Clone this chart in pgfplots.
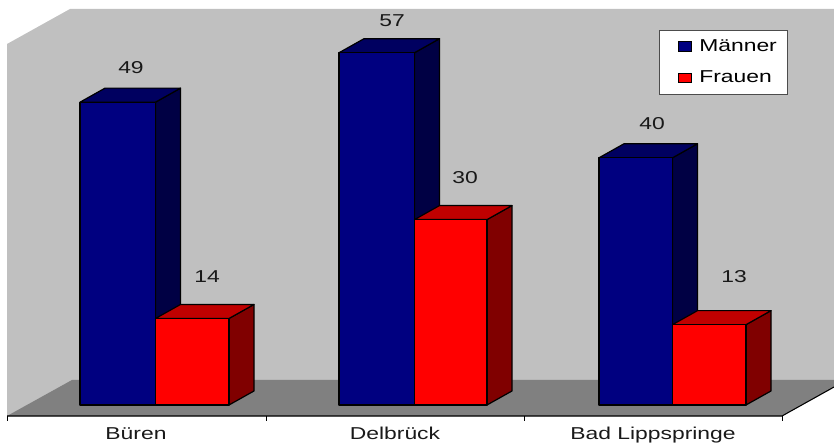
\documentclass[border=0pt]{standalone}
\usepackage{fontspec}
\setmainfont[FakeStretch=1.33]{Liberation Sans}
\usepackage{pgfplots}
\pgfplotsset{compat=1.18}
\definecolor{wall}{HTML}{C0C0C0}
\definecolor{floorgray}{HTML}{808080}
\definecolor{menfront}{HTML}{000080}
\definecolor{mentop}{HTML}{000060}
\definecolor{menside}{HTML}{000044}
\definecolor{womenfront}{HTML}{FF0000}
\definecolor{womentop}{HTML}{C00000}
\definecolor{womenside}{HTML}{800000}
% One extruded bar: left x, right x, value, then the face colours
\newcommand{\solidbar}[6]{%
  \pgfmathsetmacro{\xb}{#2+25}%
  \pgfmathsetmacro{\xa}{#1+25}%
  \pgfmathsetmacro{\vb}{#3+2.27}%
  \addplot[forget plot,draw=black,line width=0.9pt,line join=round,fill=#6]
    coordinates {(#2,0)(\xb,2.27)(\xb,\vb)(#2,#3)} --cycle;
  \addplot[forget plot,draw=black,line width=0.9pt,line join=round,fill=#5]
    coordinates {(#1,#3)(\xa,\vb)(\xb,\vb)(#2,#3)} --cycle;
  \addplot[forget plot,draw=black,line width=0.9pt,line join=round,fill=#4]
    coordinates {(#1,0)(#2,0)(#2,#3)(#1,#3)} --cycle;
}
\begin{document}
\begin{tikzpicture}
\path[use as bounding box] (0,0) rectangle (625.5pt,333.75pt);
\begin{axis}[
  at={(0,0)},
  anchor=south west,
  scale only axis,
  width=625.5pt,
  height=333.75pt,
  xmin=0, xmax=834,
  ymin=-6.472, ymax=65.534,
  hide axis,
  clip=true,
  legend style={
    at={(0.7902,0.9326)},
    anchor=north west,
    draw=black!70,
    line width=0.6pt,
    fill=white,
    font=\fontsize{12.9pt}{13pt}\selectfont,
    inner xsep=6pt,
    inner ysep=5pt,
    row sep=9.2pt,
    legend cell align=left,
    /tikz/column 1/.style={column sep=3.5pt},
  },
  legend image code/.code={
    \path[draw=none,fill=none] (0pt,0pt) rectangle (18pt,1pt);
    \draw[#1,line width=0.8pt] (8pt,-3.6pt) rectangle (18pt,3.6pt);
  },
]
% back wall and side wall
\addplot[forget plot,draw=none,fill=wall]
  coordinates {(7,58.41)(70,64.08)(834,64.08)(834,2.91)(782,-1.78)(7,-1.78)} --cycle;
% floor
\addplot[forget plot,draw=none,fill=floorgray]
  coordinates {(7,-1.78)(72,4.05)(834,4.05)(834,2.91)(782,-1.78)} --cycle;
% axis line, floor edge and category ticks
\addplot[forget plot,black,line width=0.8pt]
  coordinates {(7,-1.78)(782,-1.78)(834,2.91)};
\addplot[forget plot,black,line width=0.6pt] coordinates {(7,-1.78)(7,-2.6)};
\addplot[forget plot,black,line width=0.6pt] coordinates {(266,-1.78)(266,-2.6)};
\addplot[forget plot,black,line width=0.6pt] coordinates {(524,-1.78)(524,-2.6)};
\addplot[forget plot,black,line width=0.6pt] coordinates {(782,-1.78)(782,-2.6)};
% bars, men first so that the women's bar overlaps its side
\solidbar{80}{155.5}{49}{menfront}{mentop}{menside}
\solidbar{155.5}{229}{14}{womenfront}{womentop}{womenside}
\solidbar{339}{414.5}{57}{menfront}{mentop}{menside}
\solidbar{414.5}{487}{30}{womenfront}{womentop}{womenside}
\solidbar{599}{672.5}{40}{menfront}{mentop}{menside}
\solidbar{672.5}{746}{13}{womenfront}{womentop}{womenside}
% legend keys
\addlegendimage{draw=black,fill=menfront}
\addlegendentry{Männer}
\addlegendimage{draw=black,fill=womenfront}
\addlegendentry{Frauen}
% value labels and category names, set on a common baseline
\begin{scope}[every node/.style={font=\fontsize{12.9pt}{13pt}\selectfont,text=black!90,anchor=base}]
\node at (axis cs:131,53.7) {49};
\node at (axis cs:207,19.9) {14};
\node at (axis cs:392,61.3) {57};
\node at (axis cs:465,35.9) {30};
\node at (axis cs:652,44.5) {40};
\node at (axis cs:734,19.9) {13};
\node at (axis cs:136,-5.6) {Büren};
\node at (axis cs:395,-5.6) {Delbrück};
\node at (axis cs:653,-5.6) {Bad Lippspringe};
\end{scope}
\end{axis}
\end{tikzpicture}
\end{document}
